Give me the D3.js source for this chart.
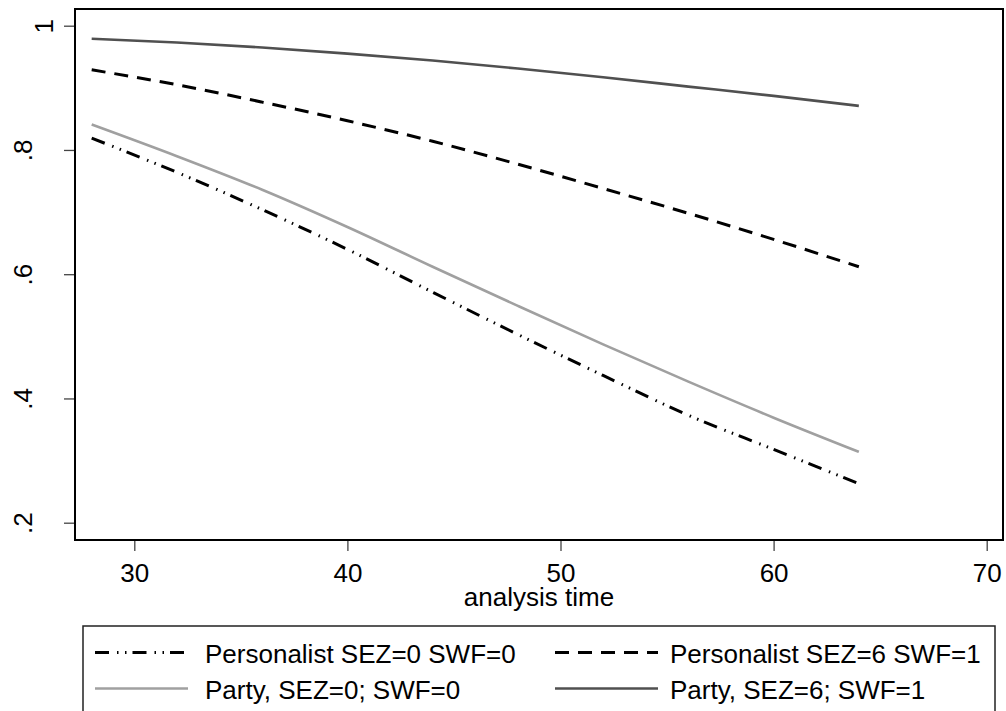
<!DOCTYPE html>
<html>
<head>
<meta charset="utf-8">
<script src="https://cdn.jsdelivr.net/npm/d3@7"></script>
<style>
  body { margin: 0; background: #fff; }
  svg { display: block; font-family: "Liberation Sans", Arial, Helvetica, sans-serif; }
</style>
</head>
<body>
<div id="graph"></div>
<script>
// analysis time at which the survivor curves were read
var times = [28, 32, 36, 40, 44, 48, 52, 56, 60, 64];

// survival estimates
var persSez0 = [0.819, 0.764, 0.704, 0.640, 0.571, 0.503, 0.437, 0.373, 0.318, 0.263];
var persSez6 = [0.929, 0.905, 0.877, 0.847, 0.814, 0.777, 0.738, 0.698, 0.656, 0.612];
var partySez0 = [0.841, 0.790, 0.736, 0.676, 0.612, 0.549, 0.487, 0.427, 0.369, 0.314];
var partySez6 = [0.979, 0.973, 0.965, 0.955, 0.944, 0.931, 0.917, 0.902, 0.887, 0.871];

var seriesNames = [
  "Personalist SEZ=0 SWF=0",
  "Personalist SEZ=6 SWF=1",
  "Party, SEZ=0; SWF=0",
  "Party, SEZ=6; SWF=1"
];

var xTicks = [30, 40, 50, 60, 70];
var yTicks = [0.2, 0.4, 0.6, 0.8, 1];
var yTickLabels = [".2", ".4", ".6", ".8", "1"];

var width = 1006, height = 711;
var fontSize = 26;

// plot frame
var frame = { left: 75, right: 1003, top: 9, bottom: 540 };

var x = d3.scaleLinear().domain([30, 70]).range([134.3, 986.7]);
var y = d3.scaleLinear().domain([0.2, 1]).range([522.7, 25.7]);

var styles = [
  { color: "#000", width: 3, dash: "14,8,1.5,6.5,1.5,6" },
  { color: "#000", width: 3, dash: "14,9" },
  { color: "#a0a0a0", width: 2.6, dash: null },
  { color: "#505050", width: 2.6, dash: null }
];

var series = [persSez0, persSez6, partySez0, partySez6].map(function (vals, i) {
  return {
    name: seriesNames[i],
    style: styles[i],
    points: times.map(function (t, j) { return { t: t, v: vals[j] }; })
  };
});

var svg = d3.select("#graph")
  .append("svg")
  .attr("width", width)
  .attr("height", height);

svg.append("rect")
  .attr("width", width)
  .attr("height", height)
  .attr("fill", "#fff");

// x axis
var xAxis = svg.append("g")
  .attr("transform", "translate(0," + frame.bottom + ")")
  .call(d3.axisBottom(x).tickValues(xTicks).tickSize(11).tickPadding(0).tickFormat(d3.format("d")));

xAxis.select(".domain").remove();
xAxis.selectAll(".tick line").attr("stroke", "#444").attr("stroke-width", 1.3);
xAxis.selectAll(".tick text")
  .attr("y", 41.5)
  .attr("dy", null)
  .attr("fill", "#000")
  .style("font-size", fontSize + "px");

// y axis with vertical labels
var yAxis = svg.append("g")
  .attr("transform", "translate(" + frame.left + ",0)")
  .call(d3.axisLeft(y).tickValues(yTicks).tickSize(11).tickFormat(function (d, i) { return yTickLabels[i]; }));

yAxis.select(".domain").remove();
yAxis.selectAll(".tick line").attr("stroke", "#444").attr("stroke-width", 1.3);
yAxis.selectAll(".tick text")
  .attr("transform", "rotate(-90)")
  .attr("x", 0)
  .attr("y", function (d) { return d === 1 ? -22 : -43; })
  .attr("dy", null)
  .attr("text-anchor", "middle")
  .attr("fill", "#000")
  .style("font-size", fontSize + "px");

// axis title
svg.append("text")
  .attr("x", (frame.left + frame.right) / 2)
  .attr("y", 606)
  .attr("text-anchor", "middle")
  .style("font-size", fontSize + "px")
  .text("analysis time");

// curves
var line = d3.line()
  .x(function (d) { return x(d.t); })
  .y(function (d) { return y(d.v); })
  .curve(d3.curveMonotoneX);

svg.append("g")
  .selectAll("path")
  .data(series)
  .enter().append("path")
  .attr("d", function (d) { return line(d.points); })
  .attr("fill", "none")
  .attr("stroke", function (d) { return d.style.color; })
  .attr("stroke-width", function (d) { return d.style.width; })
  .attr("stroke-dasharray", function (d) { return d.style.dash; });

// plot border
svg.append("rect")
  .attr("x", frame.left)
  .attr("y", frame.top)
  .attr("width", frame.right - frame.left)
  .attr("height", frame.bottom - frame.top)
  .attr("fill", "none")
  .attr("stroke", "#000")
  .attr("stroke-width", 2);

// legend
var legend = svg.append("g");

legend.append("rect")
  .attr("x", 83)
  .attr("y", 626)
  .attr("width", 912)
  .attr("height", 110)
  .attr("fill", "#fff")
  .attr("stroke", "#222")
  .attr("stroke-width", 1.5);

var legendPos = [
  { x: 95, y: 652.5 },
  { x: 555, y: 652.5 },
  { x: 95, y: 688.5 },
  { x: 555, y: 688.5 }
];

var item = legend.selectAll("g.item")
  .data(series)
  .enter().append("g")
  .attr("class", "item")
  .attr("transform", function (d, i) { return "translate(" + legendPos[i].x + "," + legendPos[i].y + ")"; });

item.append("line")
  .attr("x1", 0)
  .attr("x2", function (d, i) { return i % 2 === 0 ? 93 : 103; })
  .attr("stroke", function (d) { return d.style.color; })
  .attr("stroke-width", function (d) { return d.style.width; })
  .attr("stroke-dasharray", function (d) { return d.style.dash; });

item.append("text")
  .attr("x", function (d, i) { return i % 2 === 0 ? 110 : 115; })
  .attr("y", 10)
  .style("font-size", fontSize + "px")
  .text(function (d) { return d.name; });
</script>
</body>
</html>
